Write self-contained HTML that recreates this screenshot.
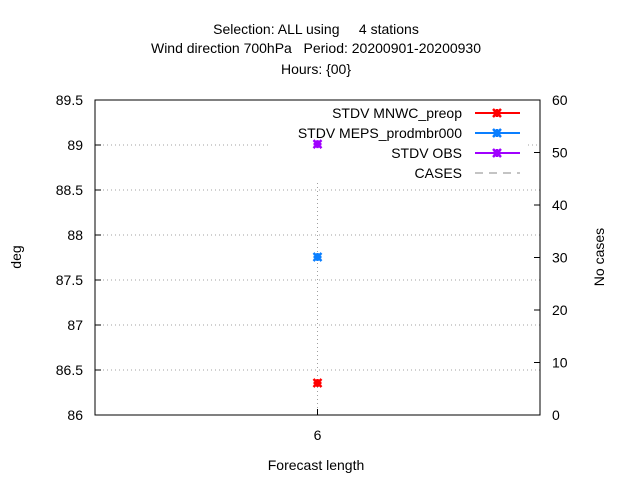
<!DOCTYPE html>
<html><head><meta charset="utf-8"><style>
body{margin:0;background:#fff}
svg text{font-family:"Liberation Sans",sans-serif;font-size:14px;fill:#000;white-space:pre}
</style></head><body>
<svg width="640" height="480">
<g id="g"></g>
</svg>
<script>
const categories=[6];
const seriesNames=["STDV MNWC_preop","STDV MEPS_prodmbr000","STDV OBS"];
const seriesColors=["#ff0000","#0a7fff","#a000ff"];
const seriesValues=[[86.356],[87.756],[89.01]];
const leftTicks=[86,86.5,87,87.5,88,88.5,89,89.5];
const rightTicks=[0,10,20,30,40,50,60];
const xTicks=[6];
const L=95,R=540,T=100,B=415;
const yL=v=>B-(v-86)/3.5*(B-T);
const yR=v=>B-v/60*(B-T);
const xS=v=>L+(v-5)/2*(R-L);
const NS="http://www.w3.org/2000/svg";
const g=document.getElementById('g');
function el(t,a,txt){const e=document.createElementNS(NS,t);for(const k in a)e.setAttribute(k,a[k]);if(txt!=null)e.textContent=txt;g.appendChild(e);return e;}
[["Selection: ALL using     4 stations",34],["Wind direction 700hPa   Period: 20200901-20200930",53],["Hours: {00}",74]].forEach((t,i)=>{
const e=el('text',{x:316,y:t[1],'text-anchor':'middle'},t[0]);

});
leftTicks.forEach(v=>{const y=yL(v);
if(v>86&&v<89.5){
if(Math.abs(y-145)<1){el('line',{x1:L,x2:268,y1:y,y2:y,stroke:'#a0a0a0','stroke-dasharray':'1,3'});el('line',{x1:528,x2:R,y1:y,y2:y,stroke:'#a0a0a0','stroke-dasharray':'1,3'});}
else el('line',{x1:L,x2:R,y1:y,y2:y,stroke:'#a0a0a0','stroke-dasharray':'1,3'});}
el('line',{x1:L,x2:L+6,y1:y,y2:y,stroke:'#000'});
const t=el('text',{x:L-12,y:y+5,'text-anchor':'end'},String(v));

});
rightTicks.forEach(v=>{const y=yR(v);
el('line',{x1:R-6,x2:R,y1:y,y2:y,stroke:'#000'});
const t=el('text',{x:R+12,y:y+5},String(v));

});
xTicks.forEach(v=>{const x=xS(v);
el('line',{x1:x,x2:x,y1:183,y2:B,stroke:'#a0a0a0','stroke-dasharray':'1,3'});
el('line',{x1:x,x2:x,y1:B,y2:B-6,stroke:'#000'});
const t=el('text',{x:x,y:B+25,'text-anchor':'middle'},String(v));

});
const fr=el('rect',{x:L,y:T,width:R-L,height:B-T,fill:'none',stroke:'#000'});


function star(x,y,c){el('path',{d:`M${x-4},${y-4}L${x+4},${y+4}M${x-4},${y+4}L${x+4},${y-4}M${x-4},${y}L${x+4},${y}M${x},${y-4}L${x},${y+4}`,stroke:c,'stroke-width':2.5});
el('rect',{x:x-3,y:y-3,width:6,height:6,fill:c});}
seriesValues.forEach((vals,i)=>{vals.forEach((v,j)=>{star(xS(categories[j]),yL(v),seriesColors[i]);

});});
const names=seriesNames.concat(["CASES"]);
names.forEach((n,i)=>{const y=113+i*20;
const t=el('text',{x:462,y:y+5,'text-anchor':'end'},n);


if(i<3){el('line',{x1:475,x2:520,y1:y,y2:y,stroke:seriesColors[i],'stroke-width':2});star(497,y,seriesColors[i]);}
else el('line',{x1:475,x2:520,y1:y,y2:y,stroke:'#a0a0a0','stroke-width':1.2,'stroke-dasharray':'8,6'});});
const yt=el('text',{x:21,y:257,'text-anchor':'middle',transform:'rotate(-90 21 257)'},'deg');


const y2t=el('text',{x:604,y:257,'text-anchor':'middle',transform:'rotate(-90 604 257)'},'No cases');


const xt=el('text',{x:316,y:470,'text-anchor':'middle'},'Forecast length');


</script>
</body></html>
